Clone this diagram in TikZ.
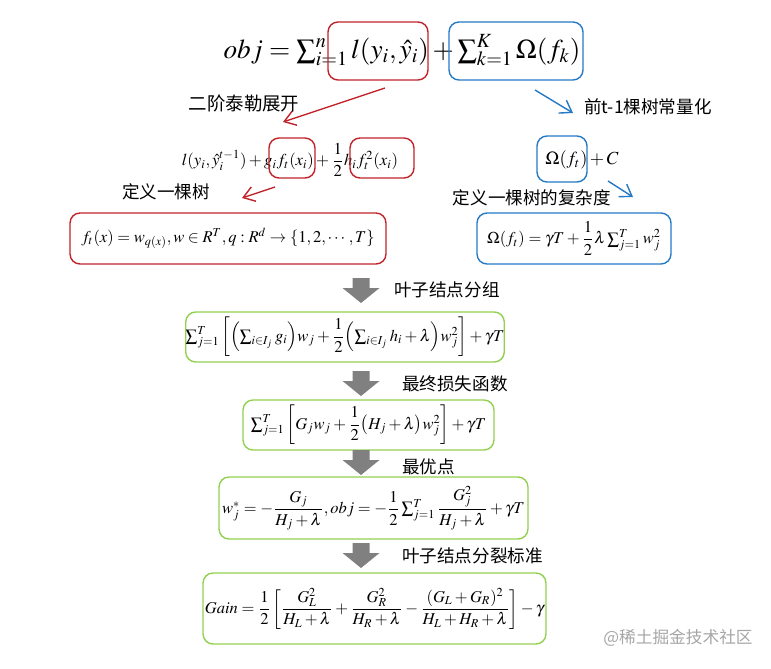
\documentclass[tikz,border=0pt]{standalone}
\usepackage{amsmath}
\usepackage{mathptmx}
\usepackage{fontspec}
\setmainfont{Liberation Serif}
\newfontfamily\cjk{Noto Sans CJK SC}
\usepackage{tikz}
\usetikzlibrary{positioning,arrows.meta,calc}

\definecolor{boxred}{RGB}{192,36,42}
\definecolor{boxblue}{RGB}{36,122,196}
\definecolor{boxgreen}{RGB}{146,208,80}
\definecolor{arrowgray}{RGB}{128,128,128}

\tikzset{
  grayarrow/.pic={\fill[arrowgray] (-8.5,-12.5) -- (8.5,-12.5) -- (8.5,-2.5) -- (18.5,-2.5)
    -- (0,12.5) -- (-18.5,-2.5) -- (-8.5,-2.5) -- cycle;}
}

\begin{document}
\begin{tikzpicture}[x=0.02cm,y=-0.02cm,font=\fontsize{9.4}{11}\selectfont,
  frame/.style={draw,line width=0.8pt,rounded corners=2mm,inner sep=0pt},
  redbox/.style={frame,draw=boxred},
  bluebox/.style={frame,draw=boxblue},
  greenbox/.style={frame,draw=boxgreen},
  redline/.style={draw=boxred,line width=0.8pt,-{Straight Barb[length=2.2mm,width=3mm]}},
  blueline/.style={draw=boxblue,line width=0.8pt,-{Straight Barb[length=2.2mm,width=3mm]}},
  note/.style={font=\cjk\fontsize{10}{12}\selectfont}]
\useasboundingbox (0,0) rectangle (771,669);

% objective
\node (obj) at (402,50) {\fontsize{15.5}{18}\selectfont
  $obj=\sum\nolimits_{i=1}^{n} l(y_i,\hat{y}_i)+\sum\nolimits_{k=1}^{K}\Omega(f_k)$};
\node[redbox,minimum width=2cm,minimum height=1.16cm] (loss) at (378,51) {};
\node[bluebox,minimum width=2.68cm,minimum height=1.16cm] (reg) at (516,51) {};

% left branch
\coordinate (r1s) at (385,88);
\coordinate (r1e) at (283,122);
\draw[redline] (r1s) -- (r1e);
\node[note,font=\cjk\fontsize{10.5}{12}\selectfont] (taylor) at (244,103) {二阶泰勒展开};
\node (expand) at (290,160) {\fontsize{9.5}{11}\selectfont
  $l(y_i,\hat{y}_i^{t-1})+g_i f_t(x_i)+\dfrac{1}{2}h_i f_t^2(x_i)$};
\node[redbox,minimum width=0.92cm,minimum height=0.8cm] (ft1) at (292,158) {};
\node[redbox,minimum width=1.28cm,minimum height=0.8cm] (ft2) at (382,158) {};
\coordinate (r2s) at (275,187);
\coordinate (r2e) at (242,198);
\draw[redline] (r2s) -- (r2e);
\node[note] (deftree) at (166,192) {定义一棵树};
\node[redbox,minimum width=6.32cm,minimum height=1.02cm] (tree) at (228,238.5)
  {$f_t(x)=w_{q(x)},w\in R^T,q:R^d\to\{1,2,\cdots,T\}$};

% right branch
\coordinate (b1s) at (535,90);
\coordinate (b1e) at (573,113);
\draw[blueline] (b1s) -- (b1e);
\node[note,anchor=west] (const) at (578,107) {前t-1棵树常量化};
\node (omc) at (582,160) {\fontsize{10.5}{12}\selectfont$\Omega(f_t)+C$};
\node[bluebox,minimum width=1cm,minimum height=0.92cm] (om) at (562,159) {};
\node[note] (defcplx) at (532,198) {定义一棵树的复杂度};
\coordinate (b2s) at (608,181);
\coordinate (b2e) at (633,197);
\draw[blueline] (b2s) -- (b2e);
\node[bluebox,minimum width=3.88cm,minimum height=1.02cm] (cplx) at (574,238.5)
  {$\Omega(f_t)=\gamma T+\dfrac{1}{2}\lambda\sum\nolimits_{j=1}^{T}w_j^2$};

% derivation
\pic (a1) at (361,290.5) {grayarrow};
\node[note,anchor=west] (group) at (388,290) {叶子结点分组};
\node[greenbox,minimum width=6.28cm,minimum height=1cm] (g1) at (345,337)
  {$\sum\nolimits_{j=1}^{T}\left[\Bigl(\sum\nolimits_{i\in I_j}g_i\Bigr)w_j
   +\dfrac{1}{2}\Bigl(\sum\nolimits_{i\in I_j}h_i+\lambda\Bigr)w_j^2\right]+\gamma T$};
\pic (a2) at (361,383.5) {grayarrow};
\node[note,anchor=west] (final) at (396,384) {最终损失函数};
\node[greenbox,minimum width=5.02cm,minimum height=1cm] (g2) at (368.5,425)
  {$\sum\nolimits_{j=1}^{T}\left[G_jw_j+\dfrac{1}{2}\bigl(H_j+\lambda\bigr)w_j^2\right]+\gamma T$};
\pic (a3) at (361,462.5) {grayarrow};
\node[note,anchor=west] (best) at (396,467) {最优点};
\node[greenbox,minimum width=6.18cm,minimum height=1.24cm] (g3) at (373.5,508)
  {$w_j^*=-\dfrac{G_j}{H_j+\lambda},obj=-\dfrac{1}{2}\sum\nolimits_{j=1}^{T}\dfrac{G_j^2}{H_j+\lambda}+\gamma T$};
\pic (a4) at (361,555.5) {grayarrow};
\node[note,anchor=west] (split) at (396,556) {叶子结点分裂标准};
\node[greenbox,minimum width=6.86cm,minimum height=1.42cm] (g4) at (374.5,608.5)
  {$Gain=\dfrac{1}{2}\left[\dfrac{G_L^2}{H_L+\lambda}+\dfrac{G_R^2}{H_R+\lambda}
   -\dfrac{(G_L+G_R)^2}{H_L+H_R+\lambda}\right]-\gamma$};

\node[note,text=black!35,font=\cjk\fontsize{9.5}{11}\selectfont] (mark) at (678,638) {@稀土掘金技术社区};
\end{tikzpicture}
\end{document}
